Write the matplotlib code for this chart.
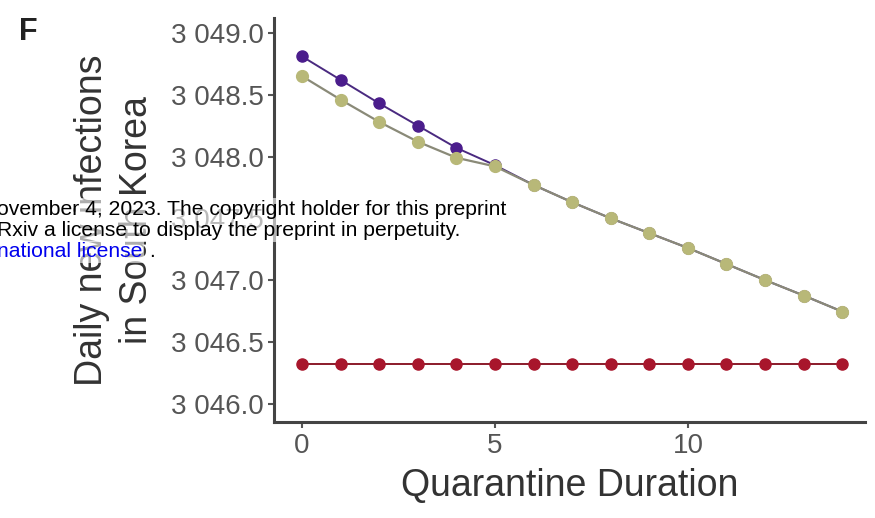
import matplotlib.pyplot as plt
from matplotlib.ticker import FuncFormatter

plt.rcParams['font.family'] = ['Liberation Sans', 'DejaVu Sans']

duration = list(range(15))
purple_vals = [3048.81, 3048.62, 3048.43, 3048.25, 3048.07, 3047.93, 3047.77, 3047.63,
               3047.50, 3047.38, 3047.26, 3047.13, 3047.00, 3046.875, 3046.745]
olive_vals = [3048.65, 3048.46, 3048.28, 3048.12, 3047.99, 3047.92, 3047.77, 3047.63,
              3047.50, 3047.38, 3047.26, 3047.13, 3047.00, 3046.875, 3046.745]
red_vals = [3046.32] * 15
yticks = [3046.0, 3046.5, 3047.0, 3047.5, 3048.0, 3048.5, 3049.0]
xticks = [0, 5, 10]


def space_thousands(v, pos):
    s = f"{v:,.1f}"
    return s.replace(",", " ")


fig = plt.figure(figsize=(8.75, 5.18), dpi=100)
ax = fig.add_axes([0.313, 0.185, 0.676, 0.78])

ax.plot(duration, red_vals, color='#8b1a2a', lw=1.4, marker='o', ms=8,
        mfc='#a8162c', mec='#a8162c', zorder=3)
ax.plot(duration, purple_vals, color='#4a2a80', lw=1.4, marker='o', ms=8,
        mfc='#4b1d8c', mec='#4b1d8c', zorder=3)
ax.plot(duration, olive_vals, color='#8a8a78', lw=1.6, marker='o', ms=8.5,
        mfc='#b8b878', mec='#b8b878', zorder=4)

ax.set_xlim(-0.73, 14.6)
ax.set_ylim(3045.85, 3049.12)
ax.set_xticks(xticks)
ax.set_yticks(yticks)
ax.yaxis.set_major_formatter(FuncFormatter(space_thousands))

for side in ['top', 'right']:
    ax.spines[side].set_visible(False)
for side in ['left', 'bottom']:
    ax.spines[side].set_linewidth(2.2)
    ax.spines[side].set_color('#444444')
ax.tick_params(axis='both', colors='#555555', labelsize=20, width=1.5, length=4)
ax.tick_params(axis='y', pad=3)
ax.tick_params(axis='x', pad=4)

ax.set_xlabel('Quarantine Duration', fontsize=27, color='#333333', labelpad=6)
ax.set_ylabel('Daily new infections\nin South Korea', fontsize=27, color='#333333',
              labelpad=12, linespacing=1.3)

fig.text(0.022, 0.923, 'F', fontsize=22, fontweight='bold', color='#222222')

# preprint watermark overlay
box = dict(facecolor='white', alpha=0.6, edgecolor='none', pad=1)
fig.text(-0.003, 0.585, 'ovember 4, 2023. The copyright holder for this preprint',
         fontsize=15.2, color='black', zorder=10, bbox=box)
fig.text(-0.003, 0.544, 'Rxiv a license to display the preprint in perpetuity.',
         fontsize=15.2, color='black', zorder=10, bbox=box)
fig.text(-0.003, 0.503, 'national license', fontsize=15.2, color='#0000ee', zorder=10,
         bbox=box)
fig.text(0.170, 0.503, '.', fontsize=15.2, color='black', zorder=10)

fig.savefig('out.png', dpi=100)
